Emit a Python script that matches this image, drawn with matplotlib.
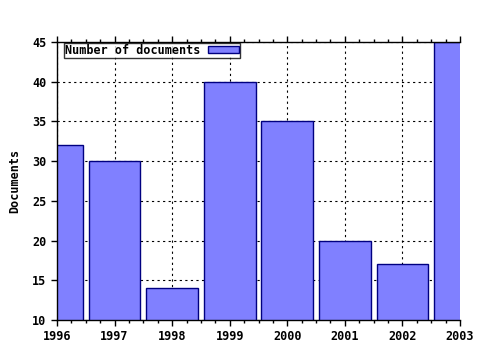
import matplotlib
matplotlib.use('Agg')
import matplotlib.pyplot as plt
from matplotlib.ticker import MultipleLocator

years = [1996, 1997, 1998, 1999, 2000, 2001, 2002, 2003]
documents = [32, 30, 14, 40, 35, 20, 17, 45]

plt.rcParams['font.family'] = 'DejaVu Sans Mono'
plt.rcParams['font.weight'] = 'bold'

fig = plt.figure(figsize=(4.8, 3.5), dpi=100)
ax = fig.add_axes([57 / 480, 1 - 320 / 350, (460 - 57) / 480, (320 - 42) / 350])

ax.bar(years, documents, width=0.9, bottom=0, color='#8080ff',
       edgecolor='#000080', linewidth=1, label='Number of documents', zorder=2)

ax.set_xlim(1996, 2003)
ax.set_ylim(10, 45)
ax.xaxis.set_major_locator(MultipleLocator(1))
ax.xaxis.set_minor_locator(MultipleLocator(0.25))
ax.yaxis.set_major_locator(MultipleLocator(5))
ax.grid(True, which='major', color='black', linestyle=(0, (2, 3)), linewidth=0.8, zorder=1)
ax.set_axisbelow(True)

ax.tick_params(axis='both', which='major', labelsize=8.5, direction='out', length=4, width=1)
ax.tick_params(axis='x', which='both', top=True)
ax.tick_params(axis='x', which='minor', direction='out', length=2, width=1)
ax.tick_params(axis='y', right=False)
for lab in ax.get_xticklabels() + ax.get_yticklabels():
    lab.set_fontweight('bold')

ax.spines['right'].set_visible(False)
for s in ['left', 'bottom', 'top']:
    ax.spines[s].set_linewidth(1)

ax.set_ylabel('Documents', fontsize=8.5, fontweight='bold', labelpad=8)

leg = ax.legend(loc='upper left', bbox_to_anchor=(0.015, 1.0), fontsize=8.5, frameon=True,
                fancybox=False, handlelength=2.6, handleheight=0.5, borderpad=0.1,
                borderaxespad=0.05, markerfirst=False, handletextpad=0.7)
leg.get_frame().set_edgecolor('black')
leg.get_frame().set_linewidth(1)
for t in leg.get_texts():
    t.set_fontweight('bold')

fig.savefig('out.png', dpi=100)
